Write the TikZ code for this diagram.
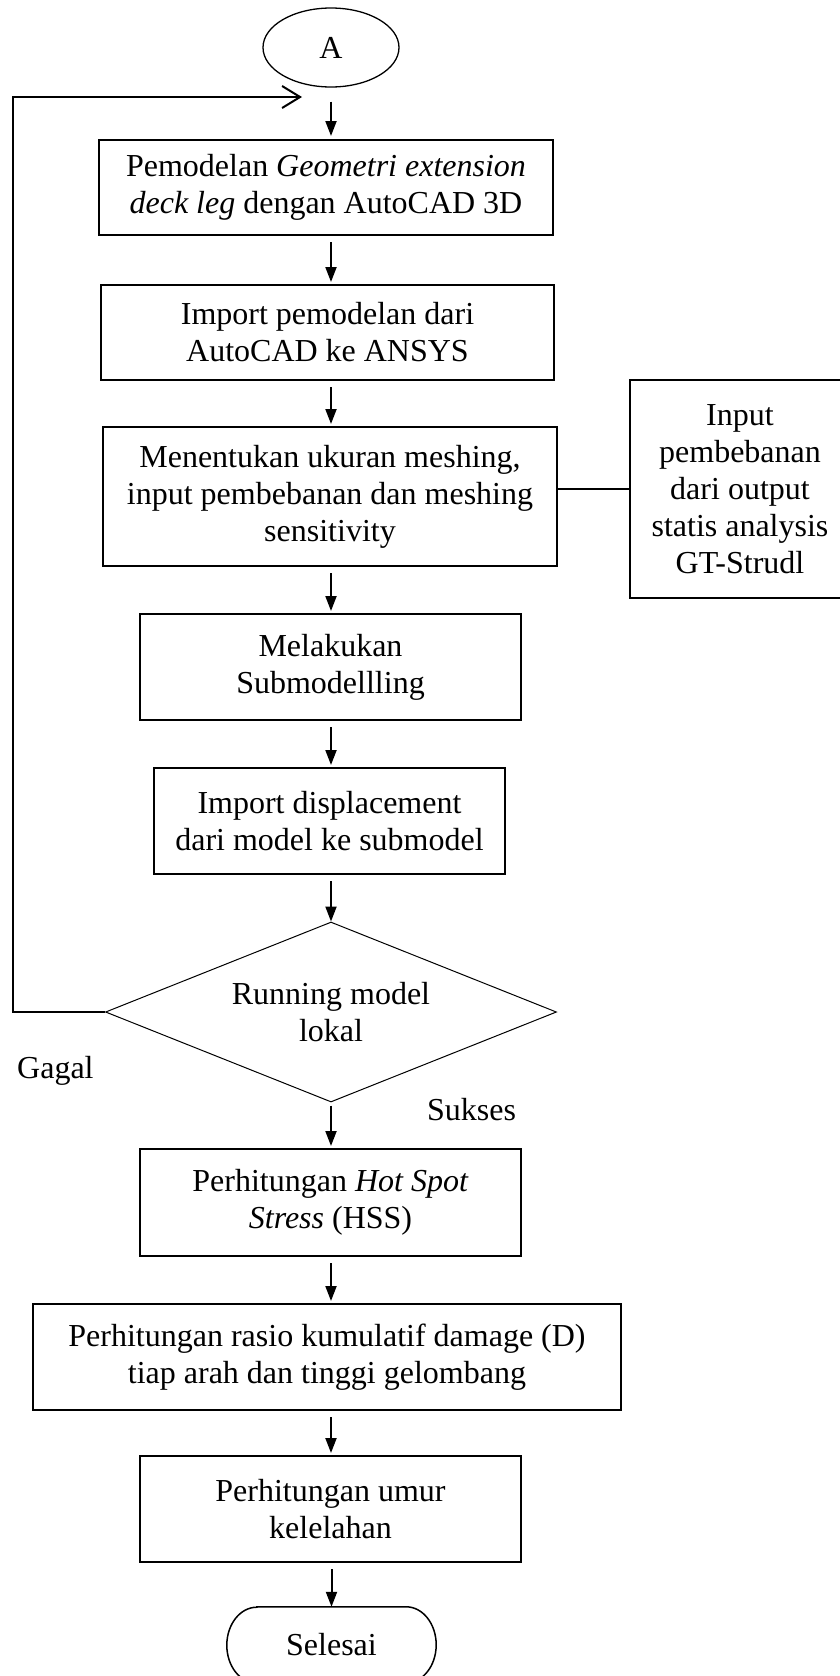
\documentclass[tikz,border=0pt]{standalone}
\usepackage{fontspec}
\setmainfont{Liberation Serif}
\usetikzlibrary{arrows.meta,shapes.geometric,shapes.misc}
\tikzset{
  txt/.style={font=\fontsize{32}{37}\selectfont, align=center, inner sep=0pt},
  procbox/.style={txt, draw, rectangle, line width=2pt},
  arr/.style={line width=2pt, -{Triangle[length=15pt,width=11pt]}, shorten <=6pt, shorten >=2pt},
  fbline/.style={line width=2pt, -{Straight Barb[length=18pt,width=22pt,line width=2pt]}},
  termline/.style={line width=1.5pt},
}
\begin{document}
\begin{tikzpicture}[x=1pt,y=-1pt]
\useasboundingbox (0,0) rectangle (840,1676);
\fill[white] (0,0) rectangle (840,1676);

\node[txt, ellipse, draw, line width=1.3pt, minimum width=136pt, minimum height=79pt] (A) at (331,47.5) {A};

\node[procbox, minimum width=454pt, minimum height=95pt] (B1) at (326,187.5)
  {Pemodelan \textit{Geometri extension}\\\textit{deck leg} dengan AutoCAD 3D};
\node[procbox, minimum width=453pt, minimum height=95pt] (B2) at (327.5,332.5)
  {Import pemodelan dari\\AutoCAD ke ANSYS};
\node[procbox, minimum width=454pt, minimum height=139pt] (B3) at (330,496.5)
  {Menentukan ukuran meshing,\\input pembebanan dan meshing\\sensitivity};
\node[procbox, minimum width=220pt, minimum height=218pt] (R) at (740,489)
  {Input\\pembebanan\\dari output\\statis analysis\\GT-Strudl};
\node[procbox, minimum width=381pt, minimum height=106pt] (B4) at (330.5,667)
  {Melakukan\\Submodellling};
\node[procbox, minimum width=351pt, minimum height=106pt] (B5) at (329.5,821)
  {Import displacement\\dari model ke submodel};
\node[txt, diamond, draw, line width=1pt, aspect=2.5, minimum width=451pt, minimum height=180pt] (D) at (331,1012)
  {Running model\\lokal};
\node[procbox, minimum width=381pt, minimum height=107pt] (B6) at (330.5,1202.5)
  {Perhitungan \textit{Hot Spot}\\\textit{Stress} (HSS)};
\node[procbox, minimum width=588pt, minimum height=106pt] (B7) at (327,1357)
  {Perhitungan rasio kumulatif damage (D)\\tiap arah dan tinggi gelombang};
\node[procbox, minimum width=381pt, minimum height=106pt] (B8) at (330.5,1509)
  {Perhitungan umur\\kelelahan};

% terminator with elliptic ends
\node[txt, rectangle, minimum width=149pt, minimum height=76pt] (S) at (331.5,1645) {Selesai};
\draw[termline] (S.north west) -- (S.north east)
  arc[start angle=90, end angle=-90, x radius=30pt, y radius=38pt]
  -- (S.south west)
  arc[start angle=270, end angle=90, x radius=30pt, y radius=38pt] -- cycle;

\node[txt, anchor=base west] (gagal) at (17,1078) {Gagal};
\node[txt, anchor=base west] (sukses) at (427,1120) {Sukses};

% main flow
\draw[arr, shorten <=14pt, shorten >=3pt] (A.south) -- (A.south |- B1.north);
\draw[arr] (B1.south -| A.south) -- (B2.north -| A.south);
\draw[arr] (B2.south -| A.south) -- (B3.north -| A.south);
\draw[arr] (B3.south -| A.south) -- (B4.north -| A.south);
\draw[arr] (B4.south -| A.south) -- (B5.north -| A.south);
\draw[arr, shorten >=0pt] (B5.south -| D.north) -- (D.north);
\draw[arr, shorten <=3pt] (D.south) -- (B6.north -| D.south);
\draw[arr] (B6.south -| A.south) -- (B7.north -| A.south);
\draw[arr] (B7.south -| A.south) -- (B8.north -| A.south);
\draw[arr, shorten >=0pt] (B8.south -| S.north) -- (S.north);

% side input
\draw[line width=2pt] (R.west) -- (R.west -| B3.east);

% feedback loop
\coordinate (fbc) at (13,97);
\coordinate (fbtip) at (302,97);
\draw[fbline] (D.west) -| (fbc) -- (fbtip);
\end{tikzpicture}
\end{document}
